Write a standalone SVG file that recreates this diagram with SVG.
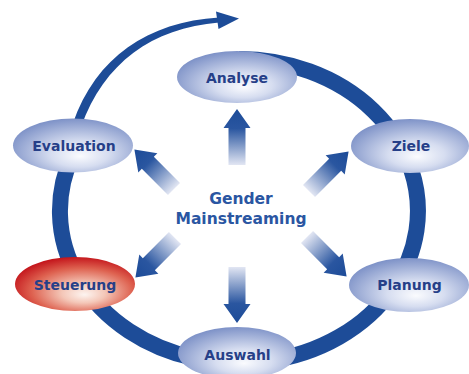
<svg xmlns="http://www.w3.org/2000/svg" xmlns:xlink="http://www.w3.org/1999/xlink" width="469" height="374" viewBox="0 0 469 374">
<defs>
<radialGradient id="gBlue" cx="0.55" cy="0.6" r="0.6" fx="0.56" fy="0.7">
<stop offset="0" stop-color="#fafbfe"/>
<stop offset="0.4" stop-color="#d6ddf0"/>
<stop offset="1" stop-color="#7f93c8"/>
</radialGradient>
<radialGradient id="gRed" cx="0.55" cy="0.6" r="0.6" fx="0.58" fy="0.7">
<stop offset="0" stop-color="#fdf4f0"/>
<stop offset="0.3" stop-color="#f4c7b8"/>
<stop offset="0.7" stop-color="#de6250"/>
<stop offset="1" stop-color="#c4161c"/>
</radialGradient>
<linearGradient id="gArr" x1="0" y1="0" x2="0" y2="1">
<stop offset="0" stop-color="#1c4b98"/>
<stop offset="0.35" stop-color="#2a56a0"/>
<stop offset="1" stop-color="#e2e6f3"/>
</linearGradient>
<path id="arr" d="M -8.5 0 L -8.5 -37 L -13.5 -37 L 0 -56 L 13.5 -37 L 8.5 -37 L 8.5 0 Z" fill="url(#gArr)"/>
<style>
.lbl{font-family:"DejaVu Sans","Liberation Sans",sans-serif;font-weight:bold;font-size:14px;fill:#263f88;text-anchor:middle}
.ctr{font-family:"DejaVu Sans","Liberation Sans",sans-serif;font-weight:bold;font-size:15.5px;fill:#2a56a2;text-anchor:middle}
.ring{fill:none;stroke:#1d4c98;stroke-width:16}
.bn{fill:url(#gBlue)}
.rn{fill:url(#gRed)}
</style>
</defs>
<rect width="469" height="374" fill="#ffffff"/>
<g id="connectors">
<path class="ring" d="M 239 59 A 179 152 0 1 1 73 154"/>
<path d="M 72.8 123.5 C 96 57, 148 22, 219 17.5 L 219 22.5 C 152 28, 104 63, 81.2 126.5 Z" fill="#1d4c98"/>
<polygon points="239,18.5 216,11.5 218.5,29" fill="#1d4c98"/>
<use xlink:href="#arr" transform="translate(237,165)"/>
<use xlink:href="#arr" transform="translate(237,267) rotate(180)"/>
<use xlink:href="#arr" transform="translate(174,189) rotate(-45)"/>
<use xlink:href="#arr" transform="translate(309,191) rotate(45)"/>
<use xlink:href="#arr" transform="translate(175,238) rotate(-135)"/>
<use xlink:href="#arr" transform="translate(307,237) rotate(135)"/>
</g>
<g id="analyse"><ellipse class="bn" cx="237" cy="77" rx="60" ry="26"/><text class="lbl" x="237" y="83">Analyse</text></g>
<g id="ziele"><ellipse class="bn" cx="410" cy="146" rx="59" ry="27"/><text class="lbl" x="411" y="151">Ziele</text></g>
<g id="planung"><ellipse class="bn" cx="409" cy="285" rx="60" ry="27"/><text class="lbl" x="409.5" y="289.5">Planung</text></g>
<g id="auswahl"><ellipse class="bn" cx="237" cy="353" rx="59" ry="26"/><text class="lbl" x="237.5" y="360">Auswahl</text></g>
<g id="steuerung"><ellipse class="rn" cx="75" cy="284" rx="60" ry="27"/><text class="lbl" x="75" y="289.5">Steuerung</text></g>
<g id="evaluation"><ellipse class="bn" cx="73" cy="145.5" rx="60" ry="27"/><text class="lbl" x="74" y="150.5">Evaluation</text></g>
<g id="center"><text class="ctr" x="241" y="204">Gender</text><text class="ctr" x="241" y="223.5">Mainstreaming</text></g>
</svg>
